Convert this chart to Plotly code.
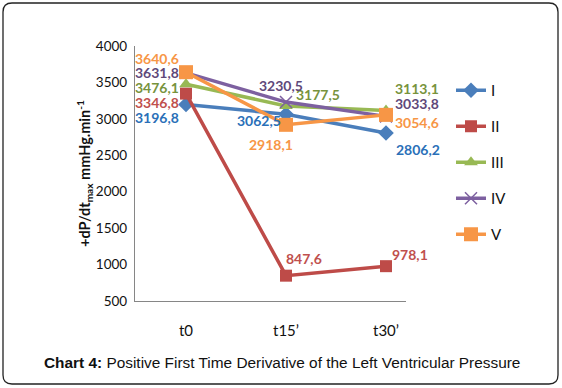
import plotly.graph_objects as go

categories = ["t0", "t15\u2019", "t30\u2019"]
series_names = ["I", "II", "III", "IV", "V"]
values_I = [3196.8, 3062.5, 2806.2]
values_II = [3346.8, 847.6, 978.1]
values_III = [3476.1, 3177.5, 3113.1]
values_IV = [3631.8, 3230.5, 3033.8]
values_V = [3640.6, 2918.1, 3054.6]
y_ticks = [500, 1000, 1500, 2000, 2500, 3000, 3500, 4000]

all_values = [values_I, values_II, values_III, values_IV, values_V]
line_colors = ["#4A7EBB", "#BE4B48", "#98B954", "#7D60A0", "#F79646"]
label_colors = ["#2A70B8", "#C0504D", "#77933C", "#5F497A", "#F79646"]
symbols = ["diamond", "square", "triangle-up", "x-thin", "square"]
msizes = [12, 12, 12, 12, 14]
# label pixel offsets (dx, dy downwards) per series per point
label_offsets = [
    [(-29, 13), (-27, 6), (32, 17)],
    [(-29, 9), (18, -17), (24, -12)],
    [(-29, 3), (32, -11), (31, -22)],
    [(-29, 0), (-5, -17), (31, -13)],
    [(-29, -14), (-15, 20), (31, 8)],
]

W, H = 562, 388
ML, MR, MT, MB = 135, 156, 46, 87
PW, PH = W - ML - MR, H - MT - MB

fig = go.Figure()
for i, (name, vals) in enumerate(zip(series_names, all_values)):
    marker = dict(symbol=symbols[i], size=msizes[i], color=line_colors[i])
    if symbols[i] == "x-thin":
        marker["line"] = dict(width=1.5, color=line_colors[i])
    fig.add_trace(go.Scatter(
        x=categories, y=vals, name=name, mode="lines+markers",
        line=dict(color=line_colors[i], width=3.5),
        marker=marker, legendgroup=name,
        cliponaxis=False,
    ))
    for j, (c, v) in enumerate(zip(categories, vals)):
        dx, dy = label_offsets[i][j]
        fig.add_annotation(
            x=c, y=v, xref="x", yref="y",
            text=f"{v:.1f}".replace(".", ","),
            showarrow=False, xshift=dx, yshift=-dy,
            font=dict(family="Lato", size=14, color=label_colors[i], weight="bold"),
        )

def px_to_paper_x(px):
    return (px - ML) / PW

def px_to_paper_y(py):
    return (H - MB - py) / PH

# rounded outer border
x0, x1, y0, y1, r = 3, 558, 3, 384, 9
X = px_to_paper_x
Y = px_to_paper_y
path = (
    f"M {X(x0 + r)} {Y(y0)} L {X(x1 - r)} {Y(y0)} Q {X(x1)} {Y(y0)} {X(x1)} {Y(y0 + r)} "
    f"L {X(x1)} {Y(y1 - r)} Q {X(x1)} {Y(y1)} {X(x1 - r)} {Y(y1)} "
    f"L {X(x0 + r)} {Y(y1)} Q {X(x0)} {Y(y1)} {X(x0)} {Y(y1 - r)} "
    f"L {X(x0)} {Y(y0 + r)} Q {X(x0)} {Y(y0)} {X(x0 + r)} {Y(y0)} Z"
)
fig.add_shape(type="path", path=path, xref="paper", yref="paper",
              line=dict(color="#222222", width=1.3), layer="below")

fig.add_annotation(
    x=px_to_paper_x(282), y=px_to_paper_y(362), xref="paper", yref="paper",
    xanchor="center", yanchor="middle",
    text="<b>Chart 4:</b> Positive First Time Derivative of the Left Ventricular Pressure",
    showarrow=False, font=dict(family="Liberation Sans", size=15.4, color="#111111"),
)

fig.update_layout(
    width=W, height=H,
    margin=dict(l=ML, r=MR, t=MT, b=MB, autoexpand=False),
    paper_bgcolor="white", plot_bgcolor="white",
    font=dict(family="Lato", size=14, color="#111111"),
    showlegend=True,
    legend=dict(
        x=px_to_paper_x(451), y=px_to_paper_y(74), xanchor="left", yanchor="top",
        font=dict(family="Lato", size=15, color="#111111"),
        tracegroupgap=13.5, itemwidth=30, bgcolor="rgba(0,0,0,0)",
    ),
    xaxis=dict(
        type="category", range=[-0.51, 2.2], showgrid=False,
        showline=True, linecolor="#868686", linewidth=1.3,
        ticks="", ticklabelstandoff=16, zeroline=False,
        tickfont=dict(family="Lato", size=15),
    ),
    yaxis=dict(
        range=[500, 4000], tickvals=y_ticks, showgrid=False,
        showline=True, linecolor="#868686", linewidth=1.3,
        ticks="", zeroline=False, tickfont=dict(family="Lato", size=13.5),
        ticklabelstandoff=4,
        title=dict(text="<b>+dP/dt<sub>max</sub> mmHg.min<sup>-1</sup></b>",
                   font=dict(family="Lato", size=14.5), standoff=1),
    ),
)

fig.write_html(
    "out.html",
    config={"displayModeBar": False},
    post_script="document.body.style.margin='0';document.body.style.overflow='hidden';",
)
